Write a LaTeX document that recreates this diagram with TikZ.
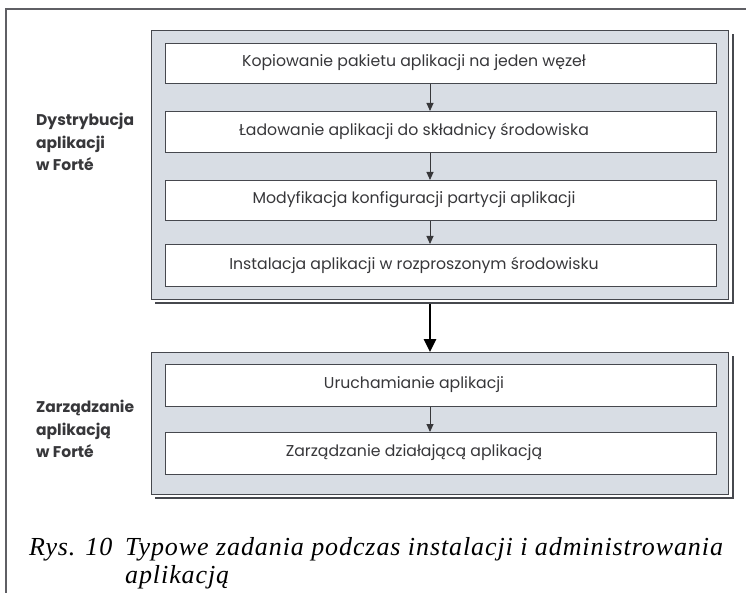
\documentclass[tikz,border=0pt]{standalone}
\usepackage{fontspec}
\setmainfont{Liberation Serif}
\newfontfamily\boxfont{Poppins}
\newfontfamily\capfont[LetterSpace=3.5]{Liberation Serif}
\usetikzlibrary{arrows.meta}

\definecolor{framegray}{RGB}{95,95,100}
\definecolor{groupfill}{RGB}{216,221,228}
\definecolor{edgegray}{RGB}{70,72,78}
\definecolor{inkgray}{RGB}{55,55,58}

\tikzset{
  groupbox/.style={draw=edgegray, line width=1pt, fill=groupfill},
  groupshadow/.style={draw=edgegray, line width=1.8pt},
  stepbox/.style={draw=edgegray, line width=1pt, fill=white, inner sep=0pt},
  steptext/.style={font=\boxfont\fontsize{15.7}{18}\selectfont, text=inkgray, inner sep=0pt},
  sidelabel/.style={font=\boxfont\bfseries\fontsize{15.5}{22.5}\selectfont, text=inkgray,
                    align=left, anchor=north west, inner sep=0pt},
  captionstyle/.style={font=\capfont\itshape\fontsize{26}{26}\selectfont, text=black,
                       anchor=base west, inner sep=0pt},
  smallarrow/.style={draw=inkgray, line width=0.9pt,
                     -{Triangle[length=8pt,width=7pt]}},
  bigarrow/.style={draw=black, line width=2.8pt,
                   -{Triangle[length=13pt,width=12pt]}},
}

\begin{document}
\begin{tikzpicture}[x=1pt,y=-1pt]
  \useasboundingbox (0,0) rectangle (746,593);

  % page frame, open at the right and bottom
  \draw[framegray, line width=1.3pt] (6,593) -- (6,9) -- (746,9);

  % group: distribution
  \draw[groupshadow] (155,303) -- (733,303) -- (733,34);
  \node[groupbox, minimum width=577pt, minimum height=269pt, anchor=north west]
    (gdist) at (151,30) {};

  % group: management
  \draw[groupshadow] (155,498) -- (733,498) -- (733,356);
  \node[groupbox, minimum width=577pt, minimum height=142pt, anchor=north west]
    (gmgmt) at (151,352) {};

  % step boxes
  \node[stepbox, minimum width=551pt, minimum height=40pt, anchor=north west] (b1) at (165,43) {};
  \node[stepbox, minimum width=551pt, minimum height=41pt, anchor=north west] (b2) at (165,111) {};
  \node[stepbox, minimum width=551pt, minimum height=40pt, anchor=north west] (b3) at (165,180) {};
  \node[stepbox, minimum width=551pt, minimum height=42pt, anchor=north west] (b4) at (165,244) {};
  \node[stepbox, minimum width=551pt, minimum height=42pt, anchor=north west] (b5) at (165,364) {};
  \node[stepbox, minimum width=551pt, minimum height=42pt, anchor=north west] (b6) at (165,432) {};

  % step texts
  \node[steptext] (t1) at (414,63) {Kopiowanie pakietu aplikacji na jeden węzeł};
  \node[steptext] (t2) at (414,131.5) {Ładowanie aplikacji do składnicy środowiska};
  \node[steptext] (t3) at (414,200) {Modyfikacja konfiguracji partycji aplikacji};
  \node[steptext] (t4) at (414,265) {Instalacja aplikacji w rozproszonym środowisku};
  \node[steptext] (t5) at (414,385) {Uruchamianie aplikacji};
  \node[steptext] (t6) at (414,453) {Zarządzanie działającą aplikacją};

  % connectors between steps
  \coordinate (ax) at (430,0);
  \draw[smallarrow] (ax |- b1.south) -- (ax |- b2.north);
  \draw[smallarrow] (ax |- b2.south) -- (ax |- b3.north);
  \draw[smallarrow] (ax |- b3.south) -- (ax |- b4.north);
  \draw[smallarrow] (ax |- b5.south) -- (ax |- b6.north);
  \draw[bigarrow] (ax |- gdist.south) ++(0,4) -- (ax |- gmgmt.north);

  % side labels
  \node[sidelabel] (ldist) at (36,113) {Dystrybucja\\aplikacji\\w Forté};
  \node[sidelabel] (lmgmt) at (36,400) {Zarządzanie\\aplikacją\\w Forté};

  % caption
  \node[captionstyle] (capnum) at (29,555) {Rys. 10};
  \node[captionstyle] (cap1) at (125,555) {Typowe zadania podczas instalacji i administrowania};
  \node[captionstyle] (cap2) at (125,583) {aplikacją};
\end{tikzpicture}
\end{document}
